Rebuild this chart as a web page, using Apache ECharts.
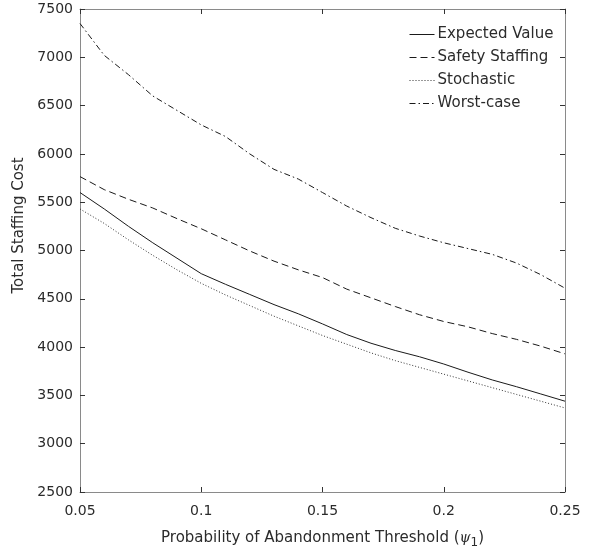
<!DOCTYPE html>
<html>
<head>
<meta charset="utf-8">
<script src="https://cdn.jsdelivr.net/npm/echarts@6/dist/echarts.min.js"></script>
<style>html,body{margin:0;padding:0;background:#fff}#c{width:591px;height:554px}</style>
</head>
<body>
<div id="c"></div>
<script>
var thresholds = [0.05,0.06,0.07,0.08,0.09,0.10,0.11,0.12,0.13,0.14,0.15,0.16,0.17,0.18,0.19,0.20,0.21,0.22,0.23,0.24,0.25];
var expectedValue = [5600,5430,5250,5080,4920,4760,4650,4545,4440,4345,4240,4130,4040,3965,3900,3825,3740,3660,3590,3515,3440];
var safetyStaffing = [5765,5630,5530,5440,5330,5225,5110,4995,4890,4800,4720,4600,4510,4420,4335,4265,4210,4140,4080,4010,3930];
var stochastic = [5430,5280,5110,4950,4800,4660,4540,4430,4320,4220,4120,4030,3940,3860,3790,3720,3650,3580,3510,3440,3370];
var worstCase = [7350,7020,6820,6600,6450,6300,6180,6000,5840,5740,5600,5460,5340,5230,5150,5080,5020,4960,4870,4750,4610];
var seriesNames = ['Expected Value','Safety Staffing','Stochastic','Worst-case'];
var yTicks = {min:2500, max:7500, interval:500};
var xTicks = {min:0.05, max:0.25, interval:0.05};

function pairs(xs, ys){ return xs.map(function(x,i){ return [x, ys[i]]; }); }

var font = 'DejaVu Sans, Liberation Sans, sans-serif';
var txt = '#2b2b2b';
var axisCol = '#8a8a8a';

function mk(name, data, type, col){
  return {
    name: name, type: 'line', data: pairs(thresholds, data),
    symbol: 'none', smooth: false, animation: false,
    itemStyle: {color: col},
    lineStyle: {color: col, width: 1, type: type}
  };
}

var chart = echarts.init(document.getElementById('c'), null, {renderer:'canvas'});
chart.setOption({
  backgroundColor: '#fff',
  animation: false,
  grid: {left: 80, right: 26, top: 9, bottom: 60, containLabel: false},
  legend: {
    orient: 'vertical', left: 404, top: 22,
    itemWidth: 25, itemHeight: 14, itemGap: 8,
    itemStyle: {opacity: 0},
    lineStyle: {width: 1},
    textStyle: {fontFamily: font, fontSize: 15, color: txt, padding: [0,0,0,-2]},
    data: seriesNames
  },
  xAxis: [{
    type: 'value', min: xTicks.min, max: xTicks.max, interval: xTicks.interval,
    position: 'bottom',
    name: 'Probability of Abandonment Threshold ({it|ψ}{sub|1})',
    nameLocation: 'middle', nameGap: 35,
    nameTextStyle: {fontFamily: font, fontSize: 15, color: txt,
      rich: {it: {fontFamily: 'DejaVu Serif', fontStyle: 'italic', fontSize: 14, color: txt},
             sub: {fontFamily: font, fontSize: 12, color: txt, verticalAlign: 'bottom', padding: [10,0,0,0]}}},
    axisLine: {show: true, onZero: false, lineStyle: {color: axisCol, width: 1}},
    axisTick: {show: true, inside: true, length: 5, lineStyle: {color: '#333'}},
    axisLabel: {fontFamily: font, fontSize: 14, color: txt, margin: 12},
    splitLine: {show: false}
  },{
    type: 'value', min: xTicks.min, max: xTicks.max, interval: xTicks.interval,
    position: 'top',
    axisLine: {show: true, onZero: false, lineStyle: {color: axisCol, width: 1}},
    axisTick: {show: true, inside: true, length: 5, lineStyle: {color: '#333'}},
    axisLabel: {show: false}, splitLine: {show: false}
  }],
  yAxis: [{
    type: 'value', min: yTicks.min, max: yTicks.max, interval: yTicks.interval,
    position: 'left',
    name: 'Total Staffing Cost', nameLocation: 'middle', nameGap: 52,
    nameTextStyle: {fontFamily: font, fontSize: 15, color: txt, padding: [0,0,0,50]},
    axisLine: {show: true, onZero: false, lineStyle: {color: axisCol, width: 1}},
    axisTick: {show: true, inside: true, length: 5, lineStyle: {color: '#333'}},
    axisLabel: {fontFamily: font, fontSize: 14, color: txt, margin: 7,
      formatter: function(v){ return String(v); }},
    splitLine: {show: false}
  },{
    type: 'value', min: yTicks.min, max: yTicks.max, interval: yTicks.interval,
    position: 'right',
    axisLine: {show: true, onZero: false, lineStyle: {color: axisCol, width: 1}},
    axisTick: {show: true, inside: true, length: 5, lineStyle: {color: '#333'}},
    axisLabel: {show: false}, splitLine: {show: false}
  }],
  series: [
    mk(seriesNames[0], expectedValue, 'solid', '#1a1a1a'),
    mk(seriesNames[1], safetyStaffing, [7,4], '#1a1a1a'),
    mk(seriesNames[2], stochastic, [1,2], '#333333'),
    mk(seriesNames[3], worstCase, [6,3,1.5,3], '#1a1a1a')
  ]
});
</script>
</body>
</html>
